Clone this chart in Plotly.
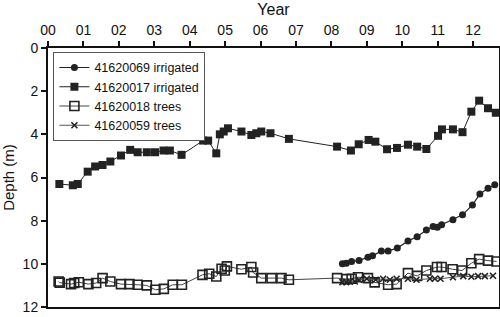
import plotly.graph_objects as go

# Year (fraction since 2000) and depth (m)
yr_69 = [8.31, 8.42, 8.57, 8.78, 9.03, 9.16, 9.41, 9.60, 9.86, 10.16, 10.42, 10.68, 10.87, 10.99,
         11.11, 11.43, 11.70, 11.98, 12.19, 12.42, 12.61]
d_69 = [10.0, 9.97, 9.89, 9.85, 9.69, 9.63, 9.40, 9.40, 9.27, 8.94, 8.74, 8.43, 8.27, 8.30,
        8.19, 7.96, 7.73, 7.27, 6.77, 6.50, 6.34]

yr_17 = [0.32, 0.70, 0.84, 1.12, 1.33, 1.54, 1.76, 2.06, 2.32, 2.53, 2.79, 3.02, 3.26, 3.44,
         3.77, 4.38, 4.52, 4.75, 4.85, 4.96, 5.08, 5.46, 5.74, 5.88, 6.02, 6.28, 6.80, 8.16,
         8.55, 8.77, 9.05, 9.24, 9.57, 9.85, 10.16, 10.42, 10.68, 11.01, 11.12, 11.43, 11.70,
         11.95, 12.17, 12.42, 12.64]
d_17 = [6.30, 6.36, 6.30, 5.73, 5.49, 5.42, 5.26, 4.98, 4.72, 4.83, 4.83, 4.83, 4.75, 4.75,
        4.95, 4.29, 4.29, 4.88, 4.00, 3.87, 3.72, 3.87, 4.03, 3.95, 3.87, 3.95, 4.21, 4.57,
        4.75, 4.46, 4.26, 4.34, 4.69, 4.63, 4.48, 4.57, 4.68, 4.07, 3.77, 3.77, 3.90,
        2.95, 2.44, 2.79, 3.00]

yr_18 = [0.30, 0.33, 0.65, 0.74, 0.87, 1.14, 1.36, 1.54, 1.76, 2.06, 2.30, 2.53, 2.79, 3.03,
         3.27, 3.52, 3.78, 4.36, 4.55, 4.75, 4.90, 4.99, 5.05, 5.46, 5.74, 5.79, 6.02, 6.31,
         6.59, 6.80, 8.16, 8.42, 8.57, 8.75, 9.03, 9.22, 9.60, 9.84, 10.16, 10.42, 10.68,
         10.98, 11.11, 11.42, 11.69, 11.95, 12.17, 12.42, 12.66]
d_18 = [10.82, 10.87, 10.94, 10.89, 10.85, 10.94, 10.89, 10.66, 10.82, 10.94, 10.94, 10.97,
        11.00, 11.20, 11.16, 10.97, 10.97, 10.51, 10.46, 10.59, 10.23, 10.31, 10.12, 10.25,
        10.15, 10.40, 10.66, 10.66, 10.66, 10.74, 10.66, 10.71, 10.69, 10.62, 10.66, 10.86,
        10.97, 10.94, 10.43, 10.56, 10.31, 10.15, 10.15, 10.25, 10.31, 9.97, 9.78, 9.85, 9.89]

yr_59 = [8.31, 8.42, 8.52, 8.66, 8.78, 9.00, 9.25, 9.46, 9.65, 9.84, 10.16, 10.40, 10.78,
         10.92, 11.08, 11.43, 11.72, 11.95, 12.14, 12.33, 12.56]
d_59 = [10.85, 10.85, 10.82, 10.82, 10.74, 10.69, 10.74, 10.69, 10.74, 10.69, 10.69, 10.74,
        10.69, 10.69, 10.69, 10.62, 10.57, 10.60, 10.57, 10.57, 10.55]

year_ticks = list(range(13))
year_labels = ["00", "01", "02", "03", "04", "05", "06", "07", "08", "09", "10", "11", "12"]
depth_ticks = [0, 2, 4, 6, 8, 10, 12]

fig = go.Figure()
fig.add_trace(go.Scatter(x=yr_69, y=d_69, mode="lines+markers", name="41620069 irrigated",
                         line=dict(color="#222", width=1.2),
                         marker=dict(symbol="circle", size=7, color="#222")))
fig.add_trace(go.Scatter(x=yr_17, y=d_17, mode="lines+markers", name="41620017 irrigated",
                         line=dict(color="#222", width=1),
                         marker=dict(symbol="square", size=8, color="#222")))
fig.add_trace(go.Scatter(x=yr_18, y=d_18, mode="lines+markers", name="41620018 trees",
                         line=dict(color="#444", width=1),
                         marker=dict(symbol="square-open", size=9, color="#222",
                                     line=dict(width=1.6))))
fig.add_trace(go.Scatter(x=yr_59, y=d_59, mode="lines+markers", name="41620059 trees",
                         line=dict(color="#555", width=1),
                         marker=dict(symbol="x-thin-open", size=6, color="#222",
                                     line=dict(width=1.6))))

fig.update_layout(
    width=500, height=317,
    margin=dict(l=48, r=1, t=48, b=10),
    paper_bgcolor="white", plot_bgcolor="white",
    font=dict(family="Liberation Sans, Arial", size=14, color="#111"),
    showlegend=True,
    legend=dict(x=0.012, y=0.985, xanchor="left", yanchor="top",
                bordercolor="#555", borderwidth=1, bgcolor="white",
                font=dict(size=12.5), tracegroupgap=0, itemwidth=30),
    xaxis=dict(side="top", range=[0, 12.73], tickvals=year_ticks, ticktext=year_labels,
               ticks="outside", ticklen=5, tickwidth=1.5, tickcolor="#111",
               showline=True, linecolor="#111", linewidth=2, mirror=True,
               showgrid=False, zeroline=False, automargin=False,
               tickfont=dict(size=14),
               title=dict(text="Year", font=dict(size=16), standoff=3)),
    yaxis=dict(range=[12, 0], tickvals=depth_ticks,
               ticks="outside", ticklen=5, tickwidth=1.5, tickcolor="#111",
               showline=True, linecolor="#111", linewidth=2, mirror=True,
               showgrid=False, zeroline=False, automargin=False,
               tickfont=dict(size=14),
               title=dict(text="Depth (m)", font=dict(size=15), standoff=4)),
)

fig.write_html("out.html", config={"displayModeBar": False},
               post_script="document.body.style.margin='0';")
